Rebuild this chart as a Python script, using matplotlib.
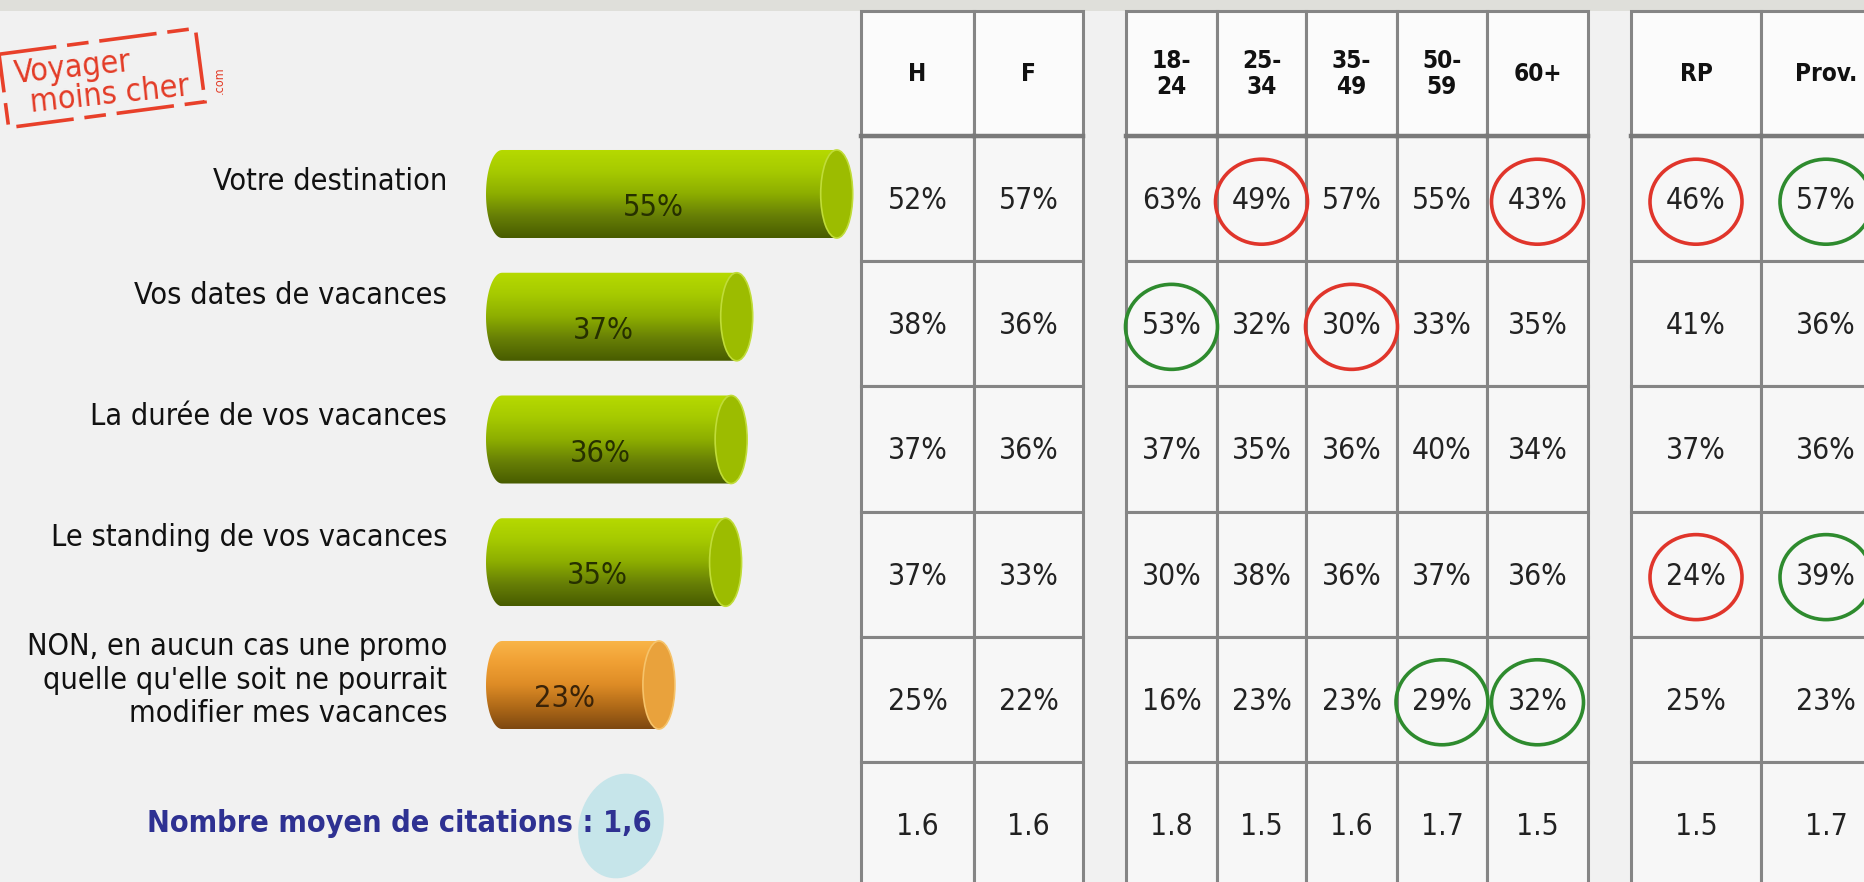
import numpy as np
import matplotlib
matplotlib.use("Agg")
import matplotlib.pyplot as plt
import matplotlib.transforms as mtransforms
from matplotlib.patches import Rectangle, Ellipse, Polygon

plt.rcParams["font.family"] = "DejaVu Sans"
plt.rcParams["font.stretch"] = "condensed"

W, H = 1865, 882

# left chart : share of people who would change something for a promo
CATEGORIES = [
    "Votre destination",
    "Vos dates de vacances",
    "La durée de vos vacances",
    "Le standing de vos vacances",
    "NON, en aucun cas une promo\nquelle qu'elle soit ne pourrait\nmodifier mes vacances",
]
TOTALS = [55, 37, 36, 35, 23]
AVG_TOTAL = "1,6"

# right tables : same question split by sex, age and region
COLUMNS = ["H", "F", "18-\n24", "25-\n34", "35-\n49", "50-\n59", "60+", "RP", "Prov."]
VAL_H = [52, 38, 37, 37, 25]
VAL_F = [57, 36, 36, 33, 22]
VAL_18_24 = [63, 53, 37, 30, 16]
VAL_25_34 = [49, 32, 35, 38, 23]
VAL_35_49 = [57, 30, 36, 36, 23]
VAL_50_59 = [55, 33, 40, 37, 29]
VAL_60P = [43, 35, 34, 36, 32]
VAL_RP = [46, 41, 37, 24, 25]
VAL_PROV = [57, 36, 36, 39, 23]
AVG_CITATIONS = [1.6, 1.6, 1.8, 1.5, 1.6, 1.7, 1.5, 1.5, 1.7]

# circled cells (row, column index)
CIRCLED_LOW = [(0, 3), (0, 6), (0, 7), (1, 4), (3, 7)]
CIRCLED_HIGH = [(0, 8), (1, 2), (3, 8), (4, 5), (4, 6)]

COL_VALUES = [VAL_H, VAL_F, VAL_18_24, VAL_25_34, VAL_35_49,
              VAL_50_59, VAL_60P, VAL_RP, VAL_PROV]

# layout (pixels)
COL_EDGES = [(861, 974), (974, 1083), (1126, 1217), (1217, 1306), (1306, 1397),
             (1397, 1487), (1487, 1588), (1631, 1761), (1761, 1891)]
ROW_TOP = 11
ROW_H = 125.14
BAR_LEFT_PX = 486
PX_PER_PCT = 5.556
BAR_BASE = -11
BAR_XMAX = 60
BAR_Y0 = 194          # centre of first bar
BAR_STEP = 122.75
BAR_H = 0.717
CAP_PX = 32
LABEL_DY = [-0.10, -0.17, -0.19, -0.20, -0.04]

BG = "#f1f1f1"
GRID = "#858585"

fig = plt.figure(figsize=(W / 100, H / 100), dpi=100, facecolor=BG)

ov = fig.add_axes([0, 0, 1, 1])
ov.set_xlim(0, W)
ov.set_ylim(H, 0)
ov.axis("off")
ov.patch.set_alpha(0)

# top grey band
ov.add_patch(Rectangle((0, 0), W, ROW_TOP, facecolor="#dfdfda", edgecolor="none"))

# ---- tables ----
for c, (x0, x1) in enumerate(COL_EDGES):
    xc = (x0 + x1) / 2
    ov.add_patch(Rectangle((x0, ROW_TOP), x1 - x0, ROW_H, facecolor="#fbfbfb",
                           edgecolor=GRID, lw=2.2, zorder=2))
    ov.text(xc, ROW_TOP + ROW_H / 2, COLUMNS[c], ha="center", va="center",
            fontsize=17.5, fontweight="bold", color="#111111", linespacing=1.1, zorder=5)
    cells = [f"{v}%" for v in COL_VALUES[c]] + [f"{AVG_CITATIONS[c]:.1f}"]
    for r, txt in enumerate(cells):
        y0 = ROW_TOP + ROW_H * (r + 1)
        ov.add_patch(Rectangle((x0, y0), x1 - x0, ROW_H, facecolor="#f7f7f7",
                               edgecolor=GRID, lw=2.2, zorder=2))
        ov.text(xc, y0 + ROW_H / 2 + 2, txt, ha="center", va="center",
                fontsize=21.5, color="#222222", zorder=5)
    ov.plot([x0, x1], [ROW_TOP + ROW_H] * 2, color="#7a7a7a", lw=3.2, zorder=3)

for cells, col in [(CIRCLED_LOW, "#e0352b"), (CIRCLED_HIGH, "#2e8b2e")]:
    for r, c in cells:
        x0, x1 = COL_EDGES[c]
        ov.add_patch(Ellipse(((x0 + x1) / 2, ROW_TOP + ROW_H * (r + 1.5) + 3), 92, 85,
                             facecolor="none", edgecolor=col, lw=2.6, zorder=4))

# ---- logo ----
logo_tr = mtransforms.Affine2D().rotate_deg_around(102, 78, -7.5) + ov.transData
ov.add_patch(Rectangle((3, 41), 198, 74, facecolor="none", edgecolor="#e8402a",
                       lw=2.6, linestyle=(0, (16, 3, 6, 3)), transform=logo_tr))
ov.text(73, 68, "Voyager", ha="center", va="center", fontsize=23, color="#e33b26",
        rotation=6, rotation_mode="anchor")
ov.text(110, 95, "moins cher", ha="center", va="center", fontsize=23, color="#e33b26",
        rotation=6, rotation_mode="anchor")
ov.text(219, 80, ".com", ha="center", va="center", fontsize=9, color="#e33b26", rotation=90)

# ---- average citations ----
ov.add_patch(Ellipse((621, 826), 84, 106, angle=15, facecolor="#c6e5ea",
                     edgecolor="none", zorder=1))
ov.text(652, 823, f"Nombre moyen de citations : {AVG_TOTAL}", ha="right", va="center",
        fontsize=22, fontweight="bold", color="#2e3192", zorder=3)

# ---- cylinder bars ----
n = len(TOTALS)
ax_w = (BAR_XMAX - BAR_BASE) * PX_PER_PCT
top_px = BAR_Y0 - BAR_STEP / 2
bot_px = BAR_Y0 + BAR_STEP * (n - 0.5)
ax = fig.add_axes([BAR_LEFT_PX / W, 1 - bot_px / H, ax_w / W, (bot_px - top_px) / H])
ax.set_xlim(BAR_BASE, BAR_XMAX)
ax.set_ylim(n - 0.5, -0.5)
ax.axis("off")
ax.patch.set_alpha(0)

GREEN = ["#b6da00", "#a6ca00", "#8dae00", "#677f06", "#485c00"]
ORANGE = ["#f9b64a", "#f0a034", "#de8c26", "#b06a18", "#7e4810"]


def gradient_img(stops, steps=120):
    rgb = np.array([matplotlib.colors.to_rgb(s) for s in stops])
    pos = np.linspace(0, 1, len(stops))
    t = np.linspace(0, 1, steps)
    img = np.stack([np.interp(t, pos, rgb[:, k]) for k in range(3)], axis=1)
    return img[:, None, :]


capw = CAP_PX / PX_PER_PCT
for i, (v, lab) in enumerate(zip(TOTALS, CATEGORIES)):
    last = i == n - 1
    stops = ORANGE if last else GREEN
    cap_col = "#e9a23c" if last else "#9cbc00"
    rim_col = "#f6c36a" if last else "#c0dc38"
    txt_col = "#3a2308" if last else "#263000"

    xl = BAR_BASE + capw / 2
    xr = v - capw / 2
    t1 = np.linspace(np.pi / 2, 3 * np.pi / 2, 40)
    t2 = np.linspace(-np.pi / 2, np.pi / 2, 40)
    px = np.concatenate([xl + capw / 2 * np.cos(t1), xr + capw / 2 * np.cos(t2)])
    py = np.concatenate([i - BAR_H / 2 * np.sin(t1), i - BAR_H / 2 * np.sin(t2)])
    shape = Polygon(np.column_stack([px, py]), closed=True, facecolor="none",
                    edgecolor="none")
    ax.add_patch(shape)
    im = ax.imshow(gradient_img(stops), extent=(BAR_BASE, v, i + BAR_H / 2, i - BAR_H / 2),
                   origin="upper", aspect="auto", interpolation="bilinear", zorder=2)
    im.set_clip_path(shape)
    ax.add_patch(Ellipse((xr, i), capw, BAR_H, facecolor=cap_col, edgecolor=rim_col,
                         lw=1.2, zorder=3))
    ax.text((BAR_BASE + xr) / 2 - 1.5, i + 0.11, f"{v}%", ha="center", va="center",
            fontsize=22, color=txt_col, zorder=4)
    ax.text(BAR_BASE - 7.0, i + LABEL_DY[i], lab, ha="right", va="center",
            fontsize=22, color="#111111", linespacing=1.2)

ax.set_ylim(n - 0.5, -0.5)
ax.set_xlim(BAR_BASE, BAR_XMAX)

fig.savefig("out.png", dpi=100, facecolor=BG)
